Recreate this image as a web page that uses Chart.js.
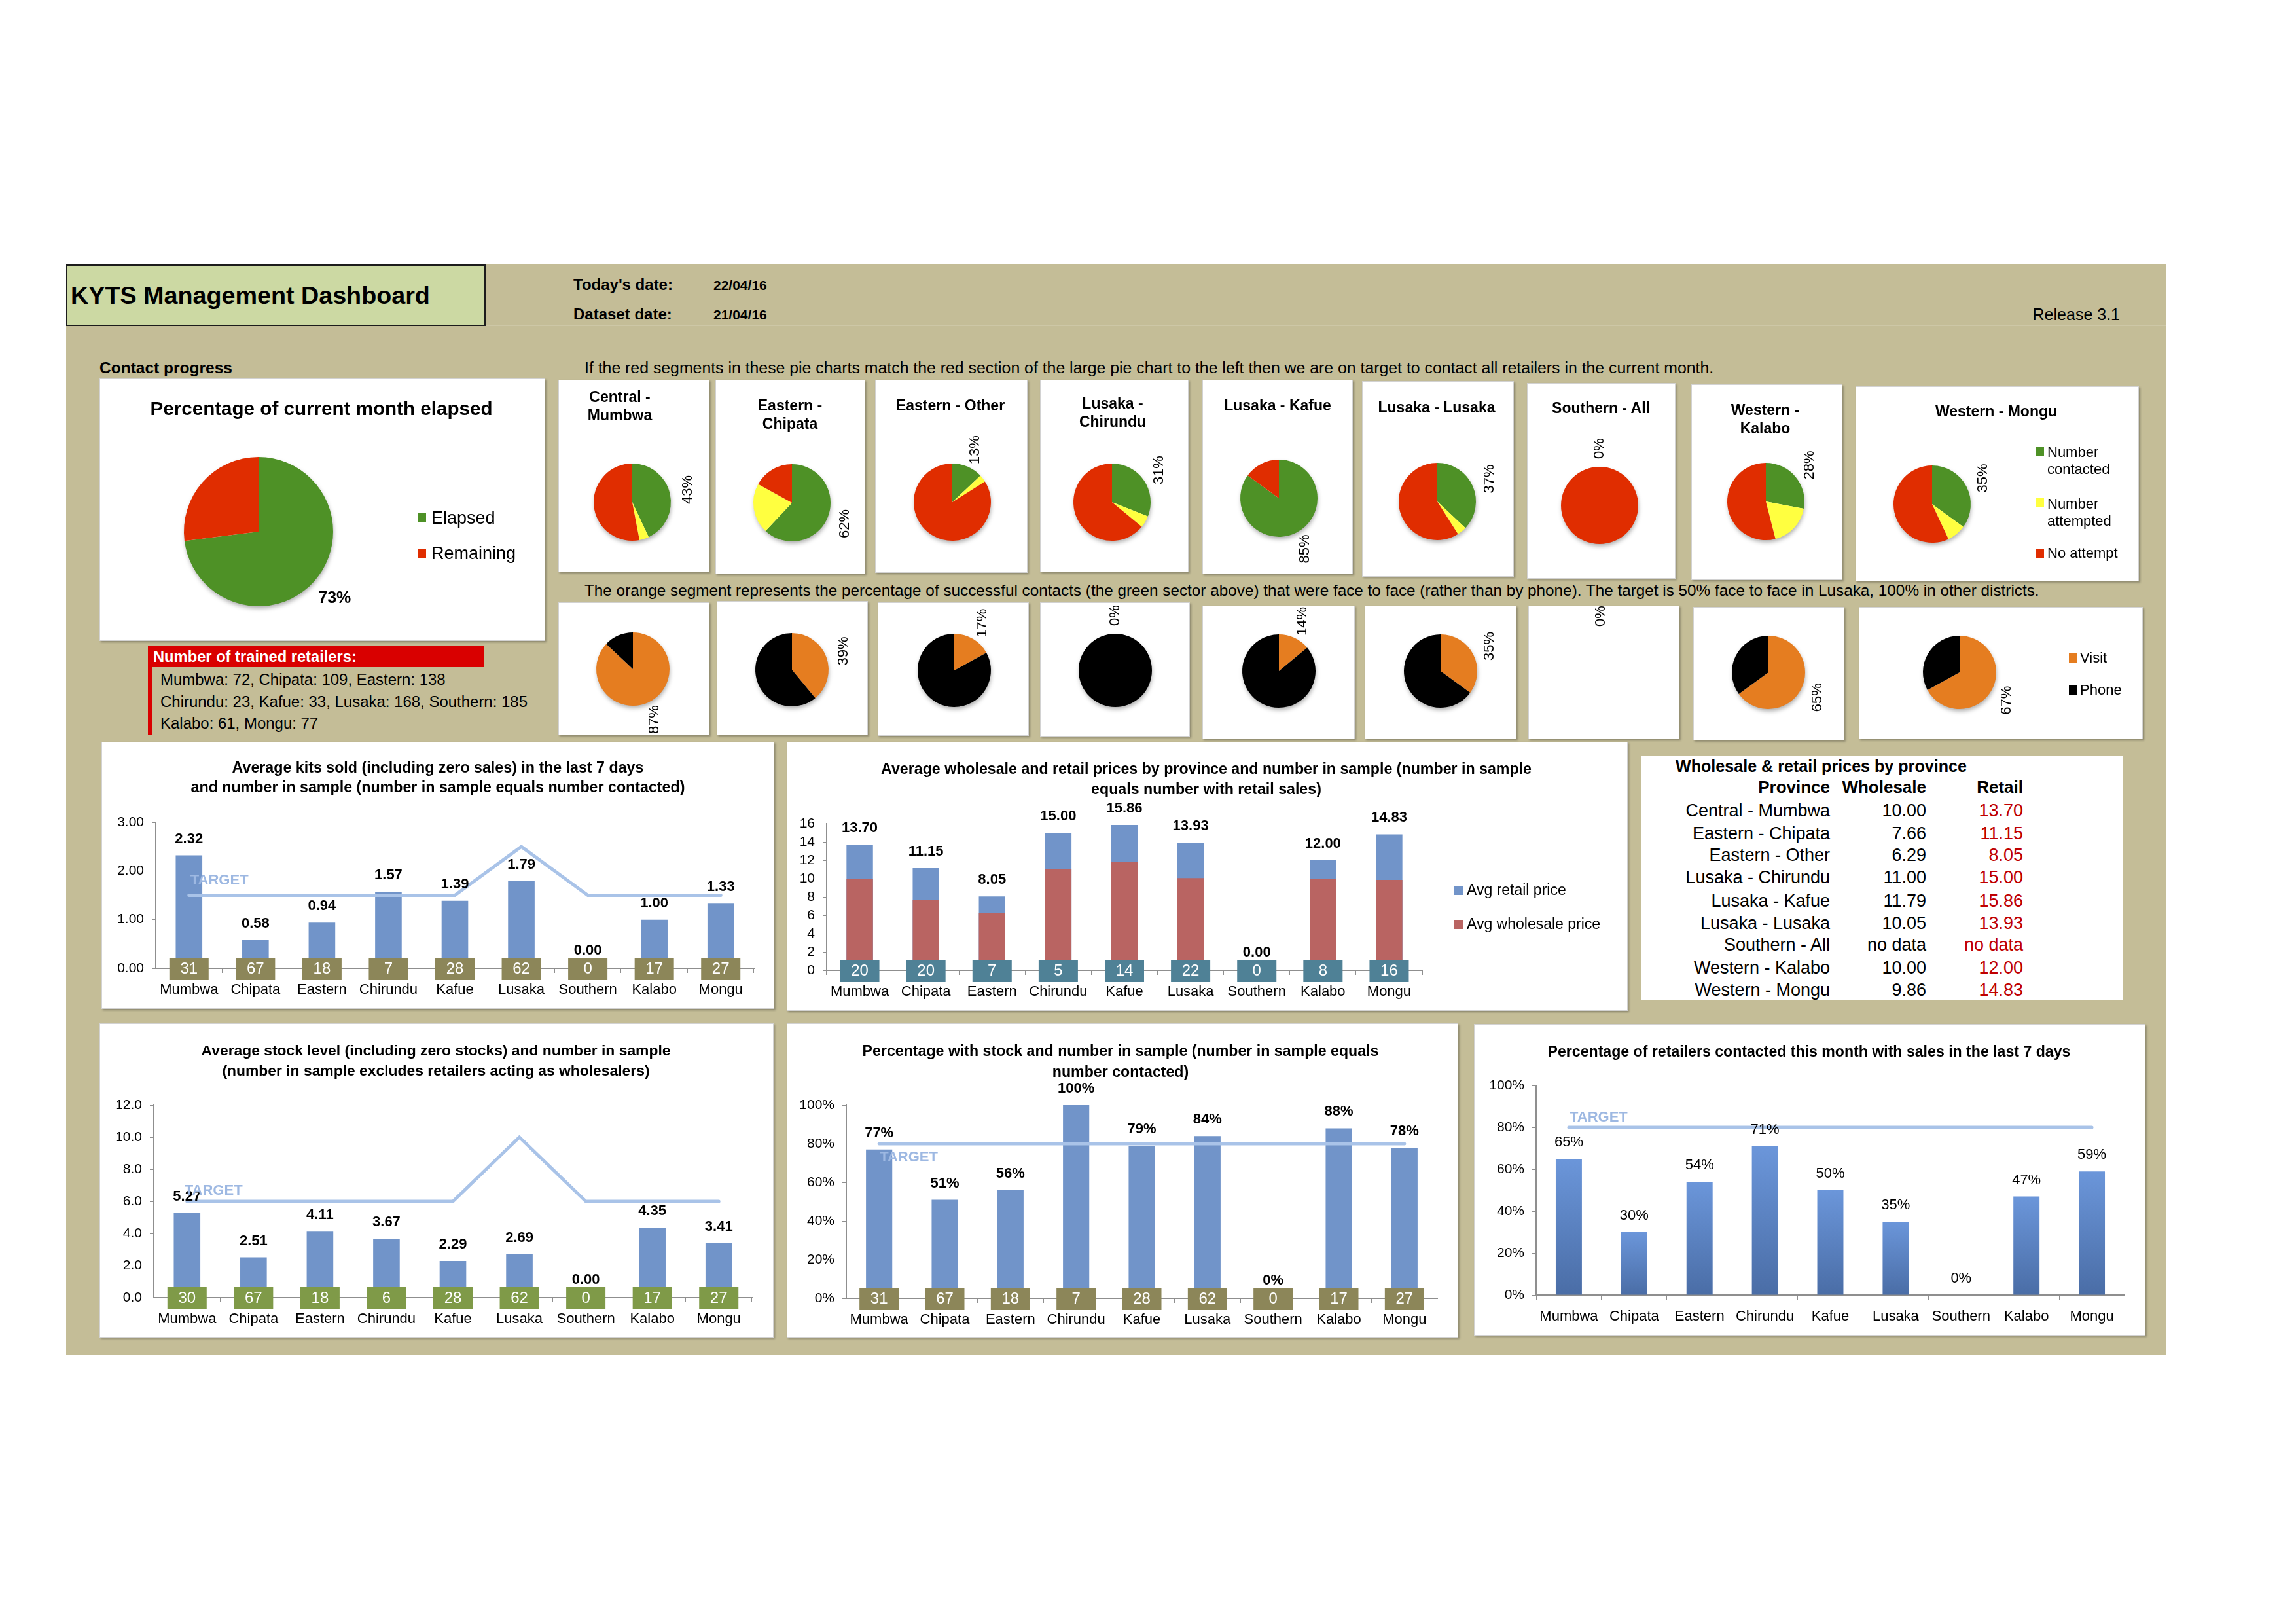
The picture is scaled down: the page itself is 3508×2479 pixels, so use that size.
<!DOCTYPE html>
<html>
<head>
<meta charset="utf-8">
<title>KYTS Management Dashboard</title>
<script src="https://cdn.jsdelivr.net/npm/chart.js@4.4.1/dist/chart.umd.min.js"></script>
<style>
  body { margin: 0; width: 3508px; height: 2479px; background: #fff; position: relative; overflow: hidden;
         font-family: 'Liberation Sans Narrow', 'Liberation Sans', Arial, sans-serif; color: #000; }
  .t { position: absolute; white-space: pre; line-height: 1.2; }
  .panel { position: absolute; background: #fff; border: 1px solid #d2d2d2; box-shadow: 2px 2px 3px rgba(0,0,0,.28); }
  .panel canvas { position: absolute; left: 0; top: 0; }
  .sq { position: absolute; width: 13px; height: 14px; }
</style>
</head>
<body>
<div style="position:absolute;left:101px;top:404px;width:3209px;height:1665px;background:#C4BD97"></div>
<div style="position:absolute;left:101px;top:496px;width:3209px;height:2px;background:#cdc7a6"></div>
<div style="position:absolute;left:101px;top:404px;width:637px;height:90px;background:#CCD9A3;border:2px solid #1c1c1c"></div>
<div style="position:absolute;left:226px;top:986px;width:513px;height:33px;background:#D90000"></div>
<div style="position:absolute;left:226px;top:986px;width:6px;height:136px;background:#D90000"></div>
<div style="position:absolute;left:2507px;top:1155px;width:737px;height:373px;background:#fff"></div>

<script>
// ---- data ----
const districts = ['Mumbwa', 'Chipata', 'Eastern', 'Chirundu', 'Kafue', 'Lusaka', 'Southern', 'Kalabo', 'Mongu'];
const provinces = ['Central - Mumbwa', 'Eastern - Chipata', 'Eastern - Other', 'Lusaka - Chirundu', 'Lusaka - Kafue',
                   'Lusaka - Lusaka', 'Southern - All', 'Western - Kalabo', 'Western - Mongu'];
const pieTitles = ['Central -\nMumbwa', 'Eastern -\nChipata', 'Eastern - Other', 'Lusaka -\nChirundu', 'Lusaka - Kafue',
                   'Lusaka - Lusaka', 'Southern - All', 'Western -\nKalabo', 'Western - Mongu'];

// month elapsed (big pie)
const monthElapsed = [73, 27];

// contact progress pies (percent of retailers)
const numberContacted = [43, 62, 13, 31, 85, 37, 0, 28, 35];
const numberAttempted = [4, 21, 3, 5, 0, 4, 0, 18, 8];
const noAttempt       = [53, 17, 84, 64, 15, 59, 100, 54, 57];

// visit vs phone pies (percent of successful contacts)
const visitShare = [87, 39, 17, 0, 14, 35, 0, 65, 67];
const phoneShare = [13, 61, 83, 100, 86, 65, 0, 35, 33];

// average kits sold
const kitsSold   = [2.32, 0.58, 0.94, 1.57, 1.39, 1.79, 0.00, 1.00, 1.33];
const kitsSample = [31, 67, 18, 7, 28, 62, 0, 17, 27];
const kitsTarget = [1.5, 1.5, 1.5, 1.5, 1.5, 2.5, 1.5, 1.5, 1.5];

// prices
const retailPrice    = [13.70, 11.15, 8.05, 15.00, 15.86, 13.93, 0.00, 12.00, 14.83];
const wholesalePrice = [10.00, 7.66, 6.29, 11.00, 11.79, 10.05, 0.00, 10.00, 9.86];
const priceSample    = [20, 20, 7, 5, 14, 22, 0, 8, 16];

// average stock level
const stockLevel  = [5.27, 2.51, 4.11, 3.67, 2.29, 2.69, 0.00, 4.35, 3.41];
const stockSample = [30, 67, 18, 6, 28, 62, 0, 17, 27];
const stockTarget = [6, 6, 6, 6, 6, 10, 6, 6, 6];

// percentage with stock
const pctWithStock   = [77, 51, 56, 100, 79, 84, 0, 88, 78];
const pctStockSample = [31, 67, 18, 7, 28, 62, 0, 17, 27];
const pctStockTarget = [80, 80, 80, 80, 80, 80, 80, 80, 80];

// percentage contacted with sales
const pctWithSales   = [65, 30, 54, 71, 50, 35, 0, 47, 59];
const pctSalesTarget = [80, 80, 80, 80, 80, 80, 80, 80, 80];

const kitsTicks  = { min: 0, max: 3, step: 1, fmt: v => v.toFixed(2) };
const priceTicks = { min: 0, max: 16, step: 2, fmt: v => String(v) };
const stockTicks = { min: 0, max: 12, step: 2, fmt: v => v.toFixed(1) };
const pctTicks   = { min: 0, max: 100, step: 20, fmt: v => v + '%' };

// ---- styling ----
const FONT = "'Liberation Sans Narrow', 'Liberation Sans', Arial, sans-serif";
const GREEN = '#4E9126', YELLOW = '#FFFF40', RED = '#E02D00', ORANGE = '#E57D20', BLACK = '#000000';
const BAR_BLUE = '#7194C9', BAR_RED = '#B96462';
const TARGET_LINE = '#A9C3E8', TARGET_TEXT = '#9DB8E2';
const OLIVE = '#8C8659', TEAL = '#4F8196', MOSS = '#7F9A48';

Chart.defaults.font.family = FONT;
Chart.defaults.color = '#000';

// ---- html helpers ----
function txt(str, x, y, style, anchor) {
  const d = document.createElement('div');
  d.className = 't';
  d.textContent = str;
  d.style.left = x + 'px';
  d.style.top = y + 'px';
  const tx = anchor === 'c' ? '-50%' : anchor === 'r' ? '-100%' : '0';
  d.style.transform = 'translate(' + tx + ',-50%)';
  if (anchor === 'c') d.style.textAlign = 'center';
  Object.assign(d.style, style);
  document.body.appendChild(d);
  return d;
}
function fit(d, w) {
  const cur = d.getBoundingClientRect().width;
  const fs = parseFloat(d.style.fontSize);
  d.style.fontSize = (fs * w / cur).toFixed(2) + 'px';
  return parseFloat(d.style.fontSize);
}
function panel(b) {
  const p = document.createElement('div');
  p.className = 'panel';
  p.style.left = b[0] + 'px'; p.style.top = b[1] + 'px';
  p.style.width = b[2] + 'px'; p.style.height = b[3] + 'px';
  document.body.appendChild(p);
  return p;
}
function square(x, y, color) {
  const s = document.createElement('div');
  s.className = 'sq';
  s.style.left = x + 'px'; s.style.top = (y - 7) + 'px'; s.style.background = color;
  document.body.appendChild(s);
}

// ---- header ----
fit(txt('KYTS Management Dashboard', 108, 452, { fontSize: '38px', fontWeight: 'bold' }), 549);
txt("Today's date:", 876, 435, { fontSize: '24px', fontWeight: 'bold' });
txt('22/04/16', 1090, 436, { fontSize: '21px', fontWeight: 'bold' });
txt('Dataset date:', 876, 480, { fontSize: '24px', fontWeight: 'bold' });
txt('21/04/16', 1090, 481, { fontSize: '21px', fontWeight: 'bold' });
txt('Release 3.1', 3239, 480, { fontSize: '25px' }, 'r');
fit(txt('Contact progress', 152, 562, { fontSize: '27px', fontWeight: 'bold' }), 203);
fit(txt('If the red segments in these pie charts match the red section of the large pie chart to the left then we are on target to contact all retailers in the current month.',
        893, 562, { fontSize: '27px' }), 1726);
fit(txt('The orange segment represents the percentage of successful contacts (the green sector above) that were face to face (rather than by phone). The target is 50% face to face in Lusaka, 100% in other districts.',
        893, 902, { fontSize: '27px' }), 2223);

// trained retailers
fit(txt('Number of trained retailers:', 234, 1003, { fontSize: '26px', fontWeight: 'bold', color: '#fff' }), 311);
const l2 = txt('Chirundu: 23, Kafue: 33, Lusaka: 168, Southern: 185', 245, 1072, { fontSize: '27px' });
const fs2 = fit(l2, 561) + 'px';
txt('Mumbwa: 72, Chipata: 109, Eastern: 138', 245, 1038, { fontSize: fs2 });
txt('Kalabo: 61, Mongu: 77', 245, 1105, { fontSize: fs2 });

// ---- pie plugins ----
const pieShadow = {
  id: 'pieShadow',
  beforeDatasetsDraw(chart) {
    const arc = chart.getDatasetMeta(0).data[0];
    const total = chart.data.datasets[0].data.reduce((a, b) => a + b, 0);
    if (!arc || total === 0) return;
    const c = chart.ctx;
    c.save();
    c.shadowColor = 'rgba(0,0,0,0.35)';
    c.shadowBlur = 7;
    c.shadowOffsetX = 1;
    c.shadowOffsetY = 4;
    c.fillStyle = '#fff';
    c.beginPath();
    c.arc(arc.x, arc.y, arc.outerRadius - 1, 0, Math.PI * 2);
    c.fill();
    c.restore();
  }
};
const pieLabel = {
  id: 'pieLabel',
  afterDatasetsDraw(chart, args, o) {
    const arc = chart.getDatasetMeta(0).data[0];
    const mid = (arc.startAngle + arc.endAngle) / 2;
    const d = arc.outerRadius + o.gap;
    const c = chart.ctx;
    c.save();
    c.translate(arc.x + Math.cos(mid) * d, arc.y + Math.sin(mid) * d);
    if (o.rotate) c.rotate(-Math.PI / 2);
    c.font = o.font;
    c.fillStyle = '#000';
    c.textAlign = 'center';
    c.textBaseline = 'middle';
    c.fillText(chart.data.datasets[0].data[0] + '%', 0, 0);
    c.restore();
  }
};

function pieChart(box, centre, r, values, colors, labelOpts) {
  const host = panel(box);
  const cv = document.createElement('canvas');
  cv.width = box[2]; cv.height = box[3];
  host.appendChild(cv);
  const lx = centre[0] - box[0], ly = centre[1] - box[1];
  return new Chart(cv, {
    type: 'pie',
    data: { labels: colors.map((_, i) => String(i)), datasets: [{ data: values, backgroundColor: colors, borderWidth: 0 }] },
    options: {
      responsive: false, animation: false, devicePixelRatio: 1,
      layout: { padding: { left: lx - r, top: ly - r, right: box[2] - lx - r, bottom: box[3] - ly - r } },
      plugins: { legend: { display: false }, tooltip: { enabled: false }, pieLabel: labelOpts }
    },
    plugins: [pieShadow, pieLabel]
  });
}

// big pie
pieChart([152, 578, 679, 399], [394, 811], 114, monthElapsed, [GREEN, RED],
         { gap: 41, rotate: false, font: 'bold 25px ' + FONT });
fit(txt('Percentage of current month elapsed', 491, 624, { fontSize: '31px', fontWeight: 'bold' }, 'c'), 523);
square(638, 791, GREEN); txt('Elapsed', 659, 791, { fontSize: '27px' });
square(638, 845, RED);   txt('Remaining', 659, 845, { fontSize: '27px' });

// small pies
const rowOnePanels = [[853,580,229,292],[1093,580,227,295],[1337,580,231,293],[1589,580,225,292],[1837,580,228,295],
                      [2081,582,230,297],[2333,585,225,297],[2584,587,229,297],[2835,590,431,296]];
const rowTwoPanels = [[853,920,229,201],[1095,918,229,203],[1341,920,229,202],[1589,920,227,203],[1837,925,231,202],
                      [2085,925,230,202],[2335,925,229,202],[2587,927,229,202],[2840,927,432,200]];
const rowOneCentres = [[965,766],[1209,767],[1454,766],[1698,766],[1953,760],[2195,765],[2443,771],[2697,765],[2951,769]];
const rowTwoCentres = [[966,1021],[1209,1022],[1457,1023],[1703,1023],[1953,1024],[2200,1024],[2445,1024],[2701,1026],[2993,1026]];
const titleX = [947, 1207, 1452, 1700, 1952, 2195, 2446, 2697, 3050];
const titleY = [621, 634, 620, 631, 620, 623, 624, 641, 629];

districts.forEach((_, i) => {
  pieChart(rowOnePanels[i], rowOneCentres[i], 59,
           [numberContacted[i], numberAttempted[i], noAttempt[i]], [GREEN, YELLOW, RED],
           { gap: 28, rotate: true, font: '22px ' + FONT });
  txt(pieTitles[i], titleX[i], titleY[i], { fontSize: '23px', fontWeight: 'bold' }, 'c');
  pieChart(rowTwoPanels[i], rowTwoCentres[i], 56,
           [visitShare[i], phoneShare[i]], [ORANGE, BLACK],
           { gap: 28, rotate: true, font: '22px ' + FONT });
});
square(3110, 689, GREEN);  txt('Number\ncontacted', 3128, 704, { fontSize: '22px' });
square(3110, 768, YELLOW); txt('Number\nattempted', 3128, 783, { fontSize: '22px' });
square(3110, 845, RED);    txt('No attempt', 3128, 845, { fontSize: '22px' });
square(3161, 1005, ORANGE); txt('Visit', 3178, 1005, { fontSize: '22px' });
square(3161, 1054, BLACK);  txt('Phone', 3178, 1054, { fontSize: '22px' });

// ---- bar chart plugin: value labels, sample boxes, target caption ----
const barExtras = {
  id: 'barExtras',
  afterDatasetsDraw(chart, args, o) {
    const c = chart.ctx, xs = chart.scales.x, ys = chart.scales.y;
    const axisY = ys.getPixelForValue(0);
    const boxTop = axisY - 16;
    c.save();
    c.textAlign = 'center';
    c.textBaseline = 'middle';
    const vals = chart.data.datasets[o.valueDataset].data;
    const meta = chart.getDatasetMeta(o.valueDataset);
    c.font = o.valueFont;
    c.fillStyle = '#000';
    meta.data.forEach((bar, i) => {
      const y = (o.samples && vals[i] === 0) ? boxTop - 11 : bar.y - 25;
      c.fillText(o.format(vals[i]), bar.x, y);
    });
    if (o.samples) {
      o.samples.forEach((n, i) => {
        const x = xs.getPixelForValue(i);
        c.fillStyle = o.boxColor;
        c.fillRect(x - 30, boxTop, 60, 34);
        c.fillStyle = '#fff';
        c.font = '24px ' + FONT;
        c.fillText(String(n), x, boxTop + 17);
      });
    }
    if (o.target) {
      const t = chart.data.datasets[o.target.dataset].data;
      c.font = 'bold 22px ' + FONT;
      c.fillStyle = TARGET_TEXT;
      c.textAlign = 'left';
      c.fillText('TARGET', xs.getPixelForValue(0) + o.target.dx, ys.getPixelForValue(t[0]) + o.target.dy);
    }
    c.restore();
  }
};

function barChart(box, area, datasets, yt, extras) {
  const host = panel(box);
  const cv = document.createElement('canvas');
  cv.width = box[2]; cv.height = box[3];
  host.appendChild(cv);
  return new Chart(cv, {
    type: 'bar',
    data: { labels: districts, datasets: datasets },
    options: {
      responsive: false, animation: false, devicePixelRatio: 1,
      layout: { padding: { left: 0, top: area[1], right: box[2] - area[2], bottom: 0 } },
      plugins: { legend: { display: false }, tooltip: { enabled: false }, barExtras: extras },
      scales: {
        x: {
          grid: { drawOnChartArea: false, drawTicks: true, tickLength: 7, color: '#8f8f8f', offset: true },
          border: { color: '#8f8f8f', width: 2 },
          ticks: { font: { size: 22 }, padding: 13, maxRotation: 0, autoSkip: false },
          afterFit: s => { s.height = box[3] - area[3]; }
        },
        y: {
          min: yt.min, max: yt.max,
          grid: { drawOnChartArea: false, drawTicks: true, tickLength: 6, color: '#8f8f8f' },
          border: { color: '#8f8f8f', width: 2 },
          ticks: { stepSize: yt.step, callback: yt.fmt, font: { size: 21 }, padding: 12, autoSkip: false },
          afterFit: s => { s.width = area[0]; }
        }
      }
    },
    plugins: [barExtras]
  });
}
function targetLine(values) {
  return { type: 'line', data: values, borderColor: TARGET_LINE, borderWidth: 5, pointRadius: 0,
           borderCapStyle: 'round', borderJoinStyle: 'miter', tension: 0, order: 0 };
}
function bars(values, color, order) {
  return { data: values, backgroundColor: color, barPercentage: 0.4, categoryPercentage: 1, order: order || 1 };
}

// kits sold
barChart([155, 1133, 1026, 406], [82, 122, 996, 345],
         [targetLine(kitsTarget), bars(kitsSold, BAR_BLUE)], kitsTicks,
         { valueDataset: 1, format: v => v.toFixed(2), valueFont: 'bold 22px ' + FONT,
           samples: kitsSample, boxColor: OLIVE, target: { dataset: 0, dx: 2, dy: -23 } });
fit(txt('Average kits sold (including zero sales) in the last 7 days\nand number in sample (number in sample equals number contacted)',
        669, 1187, { fontSize: '23px', fontWeight: 'bold', lineHeight: '30px' }, 'c'), 755);

// prices (retail behind, wholesale in front)
barChart([1202, 1133, 1283, 409], [60, 124, 970, 348],
         [Object.assign(bars(retailPrice, BAR_BLUE, 2), { grouped: false }),
          Object.assign(bars(wholesalePrice, BAR_RED, 1), { grouped: false })], priceTicks,
         { valueDataset: 0, format: v => v.toFixed(2), valueFont: 'bold 22px ' + FONT,
           samples: priceSample, boxColor: TEAL });
fit(txt('Average wholesale and retail prices by province and number in sample (number in sample\nequals number with retail sales)',
        1843, 1190, { fontSize: '23px', fontWeight: 'bold', lineHeight: '31px' }, 'c'), 994);
square(2222, 1360, BAR_BLUE); txt('Avg retail price', 2241, 1360, { fontSize: '23px' });
square(2222, 1412, BAR_RED);  txt('Avg wholesale price', 2241, 1412, { fontSize: '23px' });

// table
fit(txt('Wholesale & retail prices by province', 2560, 1170, { fontSize: '26px', fontWeight: 'bold' }), 445);
txt('Province', 2796, 1203, { fontSize: '26px', fontWeight: 'bold' }, 'r');
txt('Wholesale', 2943, 1203, { fontSize: '26px', fontWeight: 'bold' }, 'r');
txt('Retail', 3091, 1203, { fontSize: '26px', fontWeight: 'bold' }, 'r');
const rowY = [1238, 1273, 1306, 1340, 1376, 1410, 1443, 1478, 1512];
provinces.forEach((p, i) => {
  const noData = priceSample[i] === 0;
  txt(p, 2796, rowY[i], { fontSize: '27px' }, 'r');
  txt(noData ? 'no data' : wholesalePrice[i].toFixed(2), 2943, rowY[i], { fontSize: '27px' }, 'r');
  txt(noData ? 'no data' : retailPrice[i].toFixed(2), 3091, rowY[i], { fontSize: '27px', color: '#C00000' }, 'r');
});

// stock level
barChart([152, 1563, 1028, 478], [82, 124, 996, 418],
         [targetLine(stockTarget), bars(stockLevel, BAR_BLUE)], stockTicks,
         { valueDataset: 1, format: v => v.toFixed(2), valueFont: 'bold 22px ' + FONT,
           samples: stockSample, boxColor: MOSS, target: { dataset: 0, dx: -4, dy: -16 } });
fit(txt('Average stock level (including zero stocks) and number in sample\n(number in sample excludes retailers acting as wholesalers)',
        666, 1620, { fontSize: '23px', fontWeight: 'bold', lineHeight: '31px' }, 'c'), 717);

// percentage with stock
barChart([1202, 1563, 1024, 478], [90, 124, 993, 419],
         [targetLine(pctStockTarget), bars(pctWithStock, BAR_BLUE)], pctTicks,
         { valueDataset: 1, format: v => v + '%', valueFont: 'bold 22px ' + FONT,
           samples: pctStockSample, boxColor: OLIVE, target: { dataset: 0, dx: 1, dy: 21 } });
fit(txt('Percentage with stock and number in sample (number in sample equals\nnumber contacted)',
        1712, 1621, { fontSize: '23px', fontWeight: 'bold', lineHeight: '32px' }, 'c'), 789);

// percentage contacted with sales (gradient bars)
const salesBars = bars(pctWithSales, BAR_BLUE);
salesBars.backgroundColor = ctx => {
  const chart = ctx.chart, ys = chart.scales.y;
  if (!ys || !ctx.parsed) return '#5F86C6';
  const y0 = ys.getPixelForValue(0), y1 = ys.getPixelForValue(ctx.parsed.y);
  if (!isFinite(y0) || !isFinite(y1) || y0 === y1) return '#5F86C6';
  const g = chart.ctx.createLinearGradient(0, y0, 0, y1);
  g.addColorStop(0, '#4A6DA6');
  g.addColorStop(1, '#6B96DA');
  return g;
};
barChart([2252, 1564, 1024, 474], [94, 93, 993, 413],
         [targetLine(pctSalesTarget), salesBars], pctTicks,
         { valueDataset: 1, format: v => v + '%', valueFont: '22px ' + FONT,
           target: { dataset: 0, dx: 1, dy: -15 } });
fit(txt('Percentage of retailers contacted this month with sales in the last 7 days',
        2764, 1607, { fontSize: '23px', fontWeight: 'bold' }, 'c'), 799);
</script>
</body>
</html>
